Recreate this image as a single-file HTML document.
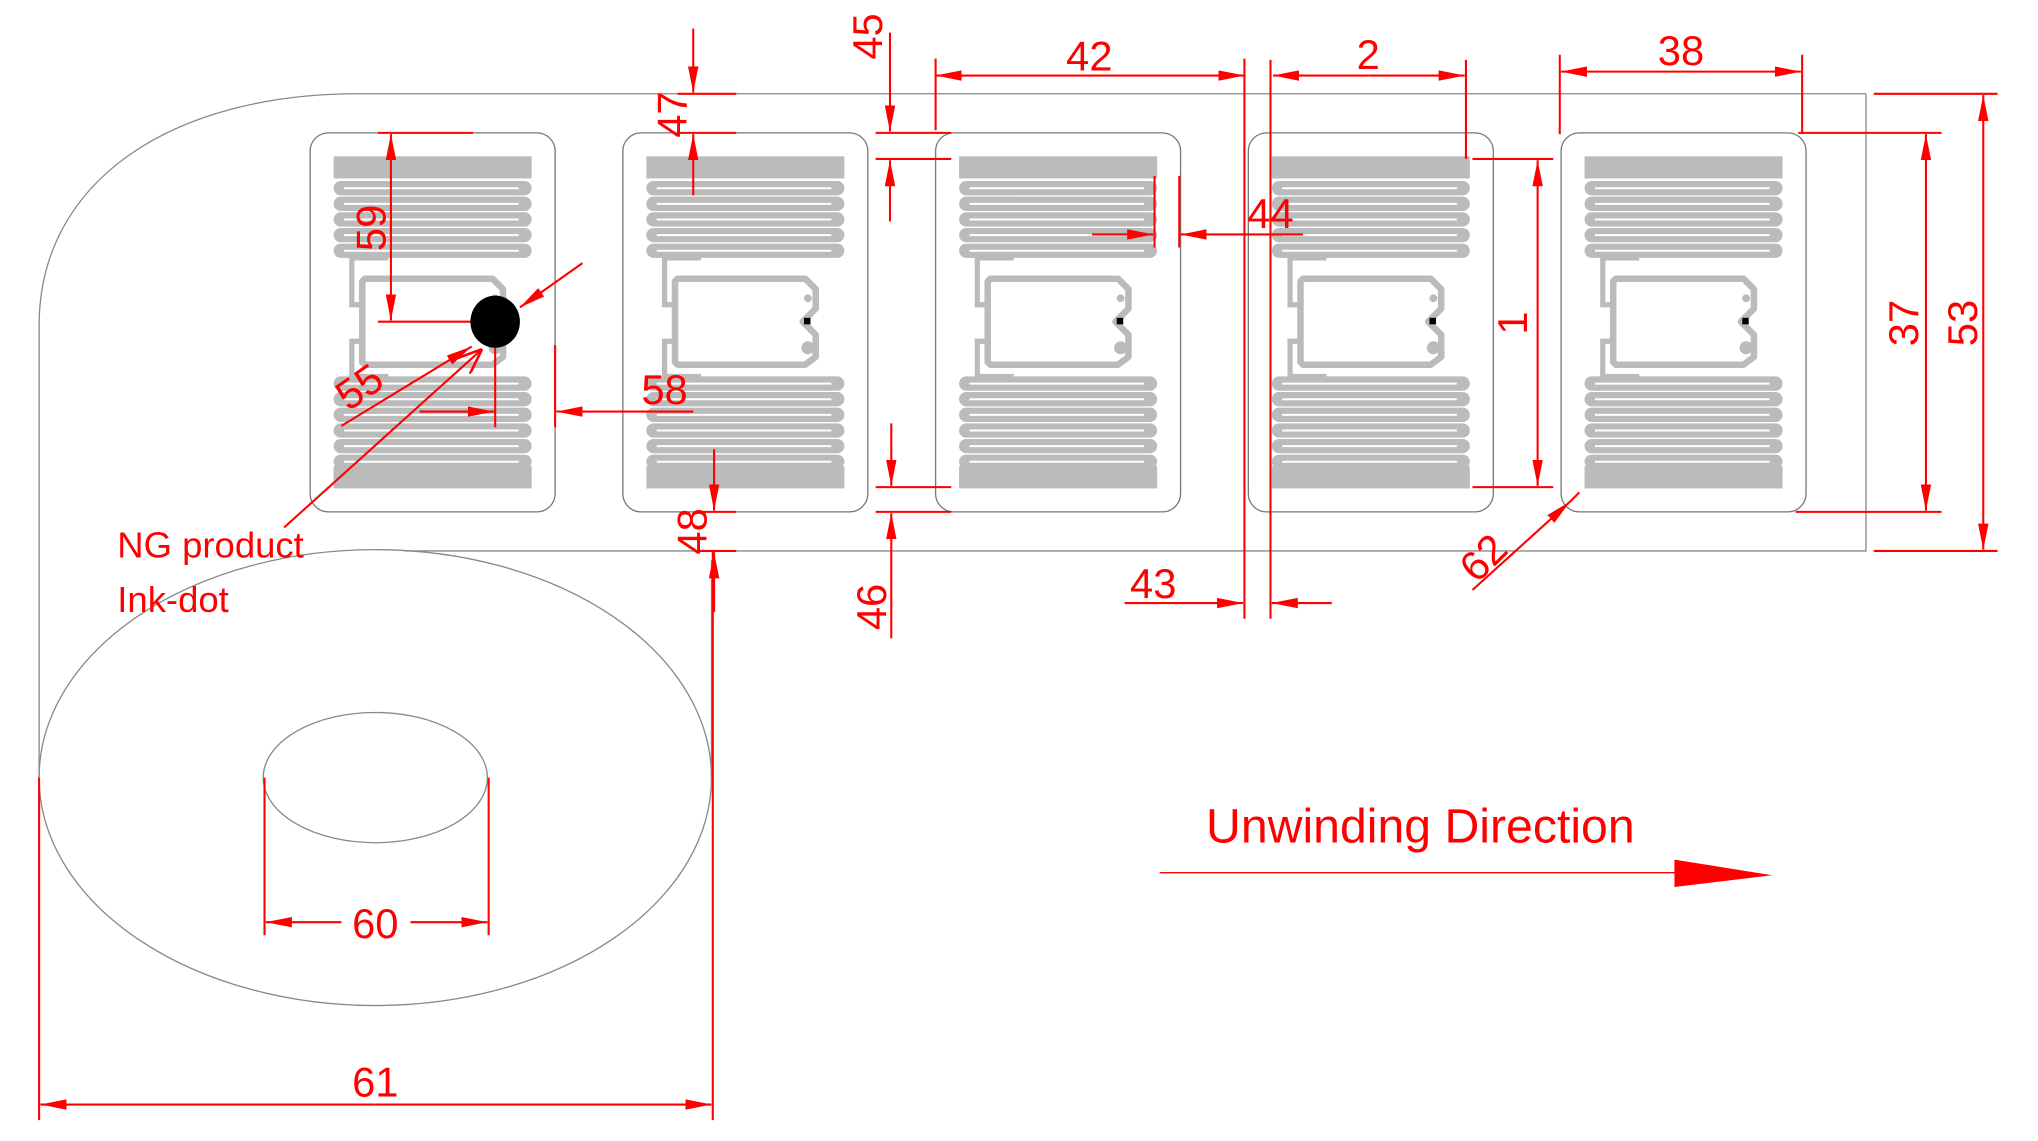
<!DOCTYPE html>
<html><head><meta charset="utf-8"><style>
html,body{margin:0;padding:0;background:#fff;}
svg{display:block;}
text{font-family:"Liberation Sans",sans-serif;fill:#f00;}
</style></head><body>
<svg width="2038" height="1141" viewBox="0 0 1564 876" preserveAspectRatio="none" xmlns="http://www.w3.org/2000/svg">
<defs>
<marker id="a" viewBox="0 0 20 8" refX="20" refY="4" markerWidth="20" markerHeight="8" markerUnits="userSpaceOnUse" orient="auto"><path d="M0,0 L20,4 L0,8 z" fill="#f00"/></marker>
<marker id="o" viewBox="0 0 20 16" refX="20" refY="8" markerWidth="20" markerHeight="16" markerUnits="userSpaceOnUse" orient="auto"><path d="M0,0 L20,8 L0,16" fill="none" stroke="#f00" stroke-width="2"/></marker>
<g id="ant">
 <rect x="0" y="0" width="188" height="291" rx="14" fill="#fff" stroke="#777" stroke-width="1"/>
 <rect x="18" y="18" width="152" height="17" fill="#bbb"/>
 <g fill="#bbb">
  <rect x="18" y="37" width="152" height="11" rx="5.5"/>
  <rect x="18" y="49" width="152" height="11" rx="5.5"/>
  <rect x="18" y="61" width="152" height="11" rx="5.5"/>
  <rect x="18" y="73" width="152" height="11" rx="5.5"/>
  <rect x="18" y="85" width="152" height="11" rx="5.5"/>
  <rect x="18" y="187" width="152" height="11" rx="5.5"/>
  <rect x="18" y="199" width="152" height="11" rx="5.5"/>
  <rect x="18" y="211" width="152" height="11" rx="5.5"/>
  <rect x="18" y="223" width="152" height="11" rx="5.5"/>
  <rect x="18" y="235" width="152" height="11" rx="5.5"/>
  <rect x="18" y="256" width="152" height="17" />
  <rect x="18" y="247" width="152" height="11" rx="5.5"/>
 </g>
 <g stroke="#fff" stroke-width="1.5">
  <line x1="26" y1="42.5" x2="160" y2="42.5"/><line x1="26" y1="54.5" x2="160" y2="54.5"/><line x1="26" y1="66.5" x2="160" y2="66.5"/><line x1="26" y1="78.5" x2="160" y2="78.5"/><line x1="26" y1="90.5" x2="160" y2="90.5"/>
  <line x1="26" y1="192.5" x2="160" y2="192.5"/><line x1="26" y1="204.5" x2="160" y2="204.5"/><line x1="26" y1="216.5" x2="160" y2="216.5"/><line x1="26" y1="228.5" x2="160" y2="228.5"/><line x1="26" y1="240.5" x2="160" y2="240.5"/><line x1="26" y1="252.5" x2="160" y2="252.5"/>
 </g>
 <path d="M60,96 L32,96 L32,132 L38,132 M38,160 L32,160 L32,187 L60,187" fill="none" stroke="#bbb" stroke-width="4"/>
 <path d="M42,112 L140,112 L148,120 L148,135 L138,145 L148,155 L148,172 L140,178 L42,178 L40,176 L40,114 z" fill="#fff" stroke="#bbb" stroke-width="5" stroke-linejoin="round"/>
 <circle cx="142" cy="127" r="3" fill="#bbb"/>
 <circle cx="142" cy="165" r="5" fill="#bbb"/>
 <rect x="139" y="142" width="5" height="5" fill="#000"/>
</g>
</defs>

<g fill="none" stroke="#888" stroke-width="1">
 <path d="M1432,72 L275,72 C130,72 30,140 30,250 L30,600"/>
 <path d="M310,423 L1432,423 L1432,72"/>
 <ellipse cx="288" cy="597" rx="258" ry="175"/>
 <ellipse cx="288" cy="597" rx="86" ry="50"/>
 <line x1="546" y1="597" x2="546" y2="430"/>
</g>
<use href="#ant" x="238" y="102"/>
<use href="#ant" x="478" y="102"/>
<use href="#ant" x="718" y="102"/>
<use href="#ant" x="958" y="102"/>
<use href="#ant" x="1198" y="102"/>
<rect x="372" y="236" width="16" height="16" fill="#fff"/>

<g stroke="#f00" stroke-width="1.6" fill="none">
 <line x1="718" y1="45" x2="718" y2="100"/><line x1="955" y1="45" x2="955" y2="475"/>
 <line x1="836" y1="58" x2="718" y2="58" marker-end="url(#a)"/><line x1="836" y1="58" x2="955" y2="58" marker-end="url(#a)"/>
 <line x1="975" y1="46" x2="975" y2="475"/><line x1="1125" y1="46" x2="1125" y2="122"/>
 <line x1="1050" y1="58" x2="977" y2="58" marker-end="url(#a)"/><line x1="1050" y1="58" x2="1124" y2="58" marker-end="url(#a)"/>
 <line x1="1197" y1="42" x2="1197" y2="103"/><line x1="1383" y1="42" x2="1383" y2="103"/>
 <line x1="1290" y1="55" x2="1198" y2="55" marker-end="url(#a)"/><line x1="1290" y1="55" x2="1382" y2="55" marker-end="url(#a)"/>
 <line x1="1438" y1="72" x2="1533" y2="72"/><line x1="1438" y1="423" x2="1533" y2="423"/>
 <line x1="1522" y1="248" x2="1522" y2="73" marker-end="url(#a)"/><line x1="1522" y1="248" x2="1522" y2="422" marker-end="url(#a)"/>
 <line x1="1380" y1="102" x2="1490" y2="102"/><line x1="1378" y1="393" x2="1490" y2="393"/>
 <line x1="1478" y1="248" x2="1478" y2="103" marker-end="url(#a)"/><line x1="1478" y1="248" x2="1478" y2="392" marker-end="url(#a)"/>
 <line x1="1130" y1="122" x2="1192" y2="122"/><line x1="1130" y1="374" x2="1192" y2="374"/>
 <line x1="1180" y1="248" x2="1180" y2="123" marker-end="url(#a)"/><line x1="1180" y1="248" x2="1180" y2="373" marker-end="url(#a)"/>
 <line x1="672" y1="102" x2="730" y2="102"/><line x1="672" y1="122" x2="730" y2="122"/>
 <line x1="683" y1="25" x2="683" y2="101" marker-end="url(#a)"/><line x1="683" y1="170" x2="683" y2="123" marker-end="url(#a)"/>
 <line x1="520" y1="72" x2="565" y2="72"/><line x1="520" y1="102" x2="565" y2="102"/>
 <line x1="532" y1="22" x2="532" y2="71" marker-end="url(#a)"/><line x1="532" y1="150" x2="532" y2="103" marker-end="url(#a)"/>
 <line x1="535" y1="393" x2="565" y2="393"/><line x1="535" y1="423" x2="565" y2="423"/>
 <line x1="548" y1="345" x2="548" y2="392" marker-end="url(#a)"/><line x1="548" y1="470" x2="548" y2="424" marker-end="url(#a)"/>
 <line x1="672" y1="374" x2="730" y2="374"/><line x1="672" y1="393" x2="730" y2="393"/>
 <line x1="684" y1="325" x2="684" y2="373" marker-end="url(#a)"/><line x1="684" y1="490" x2="684" y2="394" marker-end="url(#a)"/>
 <line x1="863" y1="463" x2="954" y2="463" marker-end="url(#a)"/><line x1="1022" y1="463" x2="976" y2="463" marker-end="url(#a)"/>
 <line x1="886" y1="135" x2="886" y2="190"/><line x1="905" y1="135" x2="905" y2="190"/>
 <line x1="838" y1="180" x2="885" y2="180" marker-end="url(#a)"/><line x1="1000" y1="180" x2="906" y2="180" marker-end="url(#a)"/>
 <line x1="1130" y1="453" x2="1205" y2="385" marker-end="url(#a)"/><line x1="1205" y1="385" x2="1212" y2="378"/>
 <line x1="290" y1="102" x2="363" y2="102"/><line x1="290" y1="247" x2="365" y2="247"/>
 <line x1="300" y1="175" x2="300" y2="103" marker-end="url(#a)"/><line x1="300" y1="175" x2="300" y2="246" marker-end="url(#a)"/>
 <line x1="262" y1="327" x2="362" y2="266" marker-end="url(#a)"/>
 <line x1="447" y1="202" x2="399" y2="236" marker-end="url(#a)"/>
 <line x1="380" y1="262" x2="380" y2="328"/><line x1="426" y1="265" x2="426" y2="328"/>
 <line x1="322" y1="316" x2="379" y2="316" marker-end="url(#a)"/><line x1="532" y1="316" x2="427" y2="316" marker-end="url(#a)"/>
 <line x1="218" y1="405" x2="370" y2="268" marker-end="url(#o)"/>
 <line x1="203" y1="597" x2="203" y2="718"/><line x1="375" y1="597" x2="375" y2="718"/>
 <line x1="262" y1="708" x2="204" y2="708" marker-end="url(#a)"/><line x1="315" y1="708" x2="374" y2="708" marker-end="url(#a)"/>
 <line x1="30" y1="597" x2="30" y2="860"/><line x1="547" y1="423" x2="547" y2="860"/>
 <line x1="288" y1="848" x2="31" y2="848" marker-end="url(#a)"/><line x1="288" y1="848" x2="546" y2="848" marker-end="url(#a)"/>
 <line x1="890" y1="670" x2="1290" y2="670" stroke-width="1"/>
</g>
<path d="M1285,660 L1360,672 L1285,681 z" fill="#f00"/>
<ellipse cx="380" cy="247" rx="19" ry="20" fill="#000"/>

<g font-size="32">
 <text x="836" y="54" text-anchor="middle">42</text>
 <text x="1050" y="53" text-anchor="middle">2</text>
 <text x="1290" y="50" text-anchor="middle">38</text>
 <text x="975" y="175" text-anchor="middle">44</text>
 <text x="885" y="459" text-anchor="middle">43</text>
 <text x="510" y="310" text-anchor="middle">58</text>
 <text x="288" y="720" text-anchor="middle">60</text>
 <text x="288" y="842" text-anchor="middle">61</text>
 <text transform="translate(1517,248) rotate(-90)" text-anchor="middle">53</text>
 <text transform="translate(1472,248) rotate(-90)" text-anchor="middle">37</text>
 <text transform="translate(1172,248) rotate(-90)" text-anchor="middle">1</text>
 <text transform="translate(677,28) rotate(-90)" text-anchor="middle">45</text>
 <text transform="translate(527,88) rotate(-90)" text-anchor="middle">47</text>
 <text transform="translate(542,408) rotate(-90)" text-anchor="middle">48</text>
 <text transform="translate(680,466) rotate(-90)" text-anchor="middle">46</text>
 <text transform="translate(296,175) rotate(-90)" text-anchor="middle">59</text>
 <text transform="translate(282,306) rotate(-35)" text-anchor="middle">55</text>
 <text transform="translate(1146,436) rotate(-45)" text-anchor="middle">62</text>
</g>
<text x="90" y="428" font-size="28">NG product</text>
<text x="90" y="470" font-size="28">Ink-dot</text>
<text x="1090" y="647" font-size="37" text-anchor="middle">Unwinding Direction</text>
</svg>
</body></html>
